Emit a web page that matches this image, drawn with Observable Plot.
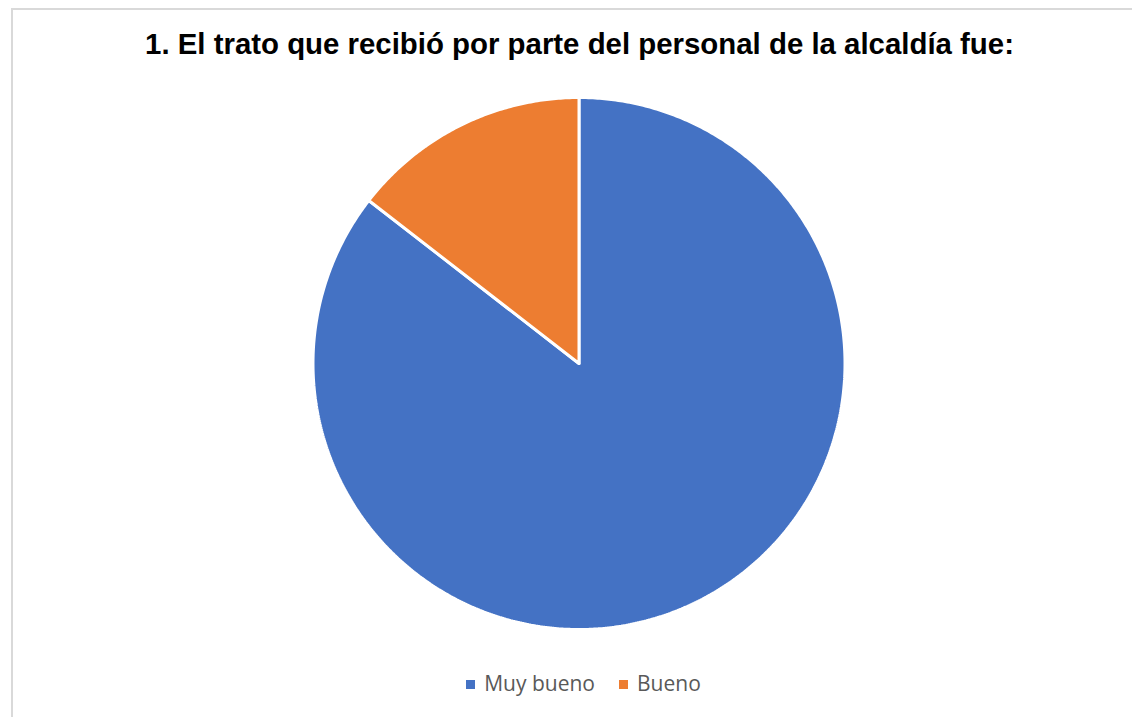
<!DOCTYPE html>
<html>
<head>
<meta charset="utf-8">
<script src="https://cdn.jsdelivr.net/npm/d3@7"></script>
<script src="https://cdn.jsdelivr.net/npm/@observablehq/plot@0.6"></script>
<style>
  html, body { margin: 0; padding: 0; background: #fff; }
  #wrap { position: relative; width: 1132px; height: 717px; overflow: hidden; }
  #frame { position: absolute; left: 11px; top: 8px; width: 1200px; height: 800px; border: 2px solid #d9d9d9; box-sizing: border-box; }
  #title { position: absolute; left: 0; width: 1159px; top: 27px; text-align: center;
           font-family: "Liberation Sans", Arial, sans-serif; font-weight: bold; font-size: 29.4px; color: #000; line-height: 34px; white-space: nowrap; }
  #chart { position: absolute; left: 0; top: 93px; }
  #legend { position: absolute; left: 0; width: 1167px; top: 669px; text-align: center;
            font-family: "Open Sans", sans-serif; font-size: 21px; color: #595959; line-height: 28px; white-space: nowrap; }
  .item { display: inline-block; margin: 0 12px; }
  .sw { display: inline-block; width: 9px; height: 9px; margin-right: 9px; vertical-align: 2px; }
</style>
</head>
<body>
<div id="wrap">
  <div id="frame"></div>
  <div id="title">1. El trato que recibió por parte del personal de la alcaldía fue:</div>
  <div id="chart"></div>
  <div id="legend"></div>
</div>
<script>
const categories = ["Muy bueno", "Bueno"];
const values = [85.5, 14.5];
const colors = ["#4472C4", "#ED7D31"];

// slice angles from the values (clockwise from 12 o'clock, like Excel)
const total = d3.sum(values);
const pts = [];
let start = 0;
categories.forEach((c, i) => {
  const end = start + values[i] / total * 2 * Math.PI;
  pts.push({cat: c, x: 0, y: 0});
  const n = Math.max(2, Math.ceil((end - start) / (Math.PI / 360)));
  for (let k = 0; k <= n; k++) {
    const a = start + (end - start) * k / n;
    pts.push({cat: c, x: Math.sin(a), y: Math.cos(a)});
  }
  pts.push({cat: c, x: 0, y: 0});
  start = end;
});

const W = 1132, H = 540, R = 266, CX = 578.5;
const chart = Plot.plot({
  width: W,
  height: H,
  marginLeft: CX - R,
  marginRight: W - (CX + R),
  marginTop: 4,
  marginBottom: H - 4 - 2 * R,
  x: {domain: [-1, 1], axis: null},
  y: {domain: [-1, 1], axis: null},
  color: {domain: categories, range: colors},
  marks: [
    Plot.line(pts, {x: "x", y: "y", z: "cat", fill: "cat", stroke: "white", strokeWidth: 3, strokeLinejoin: "miter"})
  ]
});
document.getElementById("chart").appendChild(chart);

const leg = document.getElementById("legend");
categories.forEach((c, i) => {
  const s = document.createElement("span");
  s.className = "item";
  s.innerHTML = `<span class="sw" style="background:${colors[i]}"></span>${c}`;
  leg.appendChild(s);
});
</script>
</body>
</html>
